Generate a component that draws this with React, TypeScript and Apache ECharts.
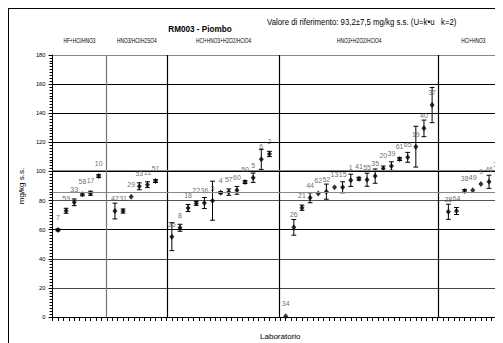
import React, { useEffect, useRef } from "react";
import * as echarts from "echarts";

// ---- data ----
const groupNames = ["HF+HCl/HNO3", "HNO3/HCl/H2SO4", "HCl+HNO3+H2O2/HClO4", "HNO3+H2O2/HClO4", "HCl+HNO3"];
// group boundaries in x-axis units (axis starts at 0, ends at 84)
const groupBounds = [0, 9.9, 21.2, 41.9, 71.2, 84];

const labsG1 = ["7", "59", "33", "58", "17", "10"];
const valsG1 = [59.8, 73.0, 78.8, 84.3, 85.0, 96.8];
const errsG1 = [0.7, 1.7, 2.3, 1.0, 1.4, 1.0];

const labsG2 = ["42", "31", "29", "53", "11", "51"];
const valsG2 = [72.8, 72.8, 82.6, 89.8, 90.9, 93.4];
const errsG2 = [5.4, 1.4, 0, 2.4, 2.0, 1.0];

const labsG3 = ["25", "8", "18", "22", "36", "3", "4", "57", "60", "50", "5", "6", "2"];
const valsG3 = [55.2, 61.3, 74.9, 78.1, 78.3, 79.9, 85.4, 85.8, 87.0, 92.7, 95.7, 108.3, 112.0];
const errsG3 = [9.6, 2.4, 2.4, 1.4, 3.8, 13.4, 0.7, 2.2, 2.7, 1.0, 3.2, 6.9, 1.8];

const labsG4 = ["34", "26", "21", "44", "62", "52", "13", "15", "1", "41", "55", "35", "20", "39", "61", "65", "19", "40", "37"];
const valsG4 = [0.5, 61.6, 75.1, 81.9, 84.9, 86.1, 89.1, 89.1, 93.9, 95.0, 94.3, 96.8, 102.1, 103.7, 108.5, 109.7, 117.0, 129.6, 145.6];
const errsG4 = [0, 5.4, 1.8, 3.4, 0, 5.2, 0, 3.8, 4.2, 1.0, 4.5, 4.9, 1.6, 2.9, 1.0, 3.4, 14.0, 5.7, 12.1];

const labsG5 = ["28", "64", "38", "49", "9", "46", "32", "23"];
const valsG5 = [72.3, 72.8, 86.5, 87.0, 91.3, 92.9, 96.4, 104.0];
const errsG5 = [5.2, 2.4, 1.0, 0, 0, 4.5, 0, 4.0];

const refValue = 93.2;
const refU = 7.5;
const yTicks = [0, 20, 40, 60, 80, 100, 120, 140, 160, 180];

const groups = [
  { labs: labsG1, vals: valsG1, errs: errsG1 },
  { labs: labsG2, vals: valsG2, errs: errsG2 },
  { labs: labsG3, vals: valsG3, errs: errsG3 },
  { labs: labsG4, vals: valsG4, errs: errsG4 },
  { labs: labsG5, vals: valsG5, errs: errsG5 },
];

const SANS = "'Liberation Sans', Arial, sans-serif";

export default function App() {
  const ref = useRef<HTMLDivElement>(null);
  useEffect(() => {
    if (!ref.current) return;
    const chart = echarts.init(ref.current, undefined, { renderer: "svg" });

    // build points: each group followed by one empty slot
    const points: any[] = [];
    let slot = 0;
    groups.forEach((g) => {
      g.labs.forEach((lab, i) => {
        points.push([1 + 1.5 * slot, g.vals[i], g.errs[i], lab]);
        slot++;
      });
      slot++;
    });

    const gridColors = ["#000", "#444", "#444", "#000", "#555", "#000", "#000", "#000", "#000", "#888"];

    chart.setOption({
      animation: false,
      grid: { left: 35.3, top: 46, width: 463.7, height: 262 },
      xAxis: {
        type: "value",
        min: 0,
        max: 84,
        interval: 1,
        name: "Laboratorio",
        nameLocation: "middle",
        nameGap: 15,
        nameTextStyle: { fontFamily: SANS, fontSize: 8, color: "#000" },
        axisLine: { lineStyle: { color: "#000", width: 1 } },
        axisTick: { show: true, length: 4, lineStyle: { color: "#000" } },
        axisLabel: { show: false },
        splitLine: { show: false },
      },
      yAxis: {
        type: "value",
        min: yTicks[0],
        max: yTicks[yTicks.length - 1],
        interval: 20,
        name: "mg/kg s.s.",
        nameLocation: "middle",
        nameGap: 18,
        nameTextStyle: { fontFamily: SANS, fontSize: 8, color: "#000" },
        axisLine: { show: true, lineStyle: { color: "#000", width: 1 } },
        axisTick: { show: true, length: 4, lineStyle: { color: "#000" } },
        minorTick: { show: true, splitNumber: 10, length: 3, lineStyle: { color: "#000" } },
        axisLabel: { fontFamily: SANS, fontSize: 5.8, color: "#000", margin: 7 },
        splitLine: { show: true, lineStyle: { color: gridColors, width: 1.2 } },
      },
      series: [
        {
          type: "line",
          data: [],
          silent: true,
          z: 1,
          markLine: {
            silent: true,
            symbol: "none",
            animation: false,
            label: { show: false },
            data: [
              ...groupBounds.slice(1, -1).map((b, i) => ({
                xAxis: b,
                lineStyle: { color: i === 0 ? "#777" : "#000", width: 1.2, type: "solid" },
              })),
              { yAxis: refValue + refU, lineStyle: { color: "#888", width: 1.2, type: "solid" } },
              { yAxis: refValue - refU, lineStyle: { color: "#888", width: 1.2, type: "solid" } },
            ],
          },
        },
        {
          type: "custom",
          z: 3,
          silent: true,
          data: points,
          encode: { x: 0, y: 1 },
          renderItem: (params: any, api: any) => {
            const x = api.value(0);
            const y = api.value(1);
            const e = api.value(2);
            if (!e) return null;
            const top = api.coord([x, y + e]);
            const bot = api.coord([x, y - e]);
            const hw = 2.4;
            const st = { stroke: "#000", lineWidth: 1 };
            return {
              type: "group",
              children: [
                { type: "line", shape: { x1: top[0], y1: top[1], x2: bot[0], y2: bot[1] }, style: st },
                { type: "line", shape: { x1: top[0] - hw, y1: top[1], x2: top[0] + hw, y2: top[1] }, style: st },
                { type: "line", shape: { x1: bot[0] - hw, y1: bot[1], x2: bot[0] + hw, y2: bot[1] }, style: st },
              ],
            };
          },
        },
        {
          type: "scatter",
          z: 4,
          data: points,
          encode: { x: 0, y: 1 },
          symbol: "diamond",
          symbolSize: [5, 6],
          itemStyle: { color: "#000" },
          label: {
            show: true,
            position: "top",
            distance: 6,
            formatter: (p: any) => p.value[3],
            fontFamily: SANS,
            fontSize: 7,
            color: "#444",
          },
        },
      ],
    });

    const headerTexts = groupNames.map((n, i) => {
      const mid = (groupBounds[i] + groupBounds[i + 1]) / 2;
      const px = chart.convertToPixel({ xAxisIndex: 0 }, mid) as number;
      return {
        type: "text",
        x: px,
        y: 32,
        scaleX: 0.74,
        style: { text: n, fontFamily: SANS, fontSize: 6.5, fill: "#000", align: "center", verticalAlign: "middle" },
      };
    });

    chart.setOption({
      graphic: [
        {
          type: "text",
          x: 191,
          y: 20,
          scaleX: 0.86,
          style: { text: "RM003 - Piombo", fontFamily: SANS, fontWeight: "bold", fontSize: 9.5, fill: "#000", align: "center", verticalAlign: "middle" },
        },
        {
          type: "text",
          x: 258,
          y: 13,
          scaleX: 0.84,
          style: { text: "Valore di riferimento: 93,2±7,5 mg/kg s.s. (U=k•u   k=2)", fontFamily: SANS, fontSize: 9.3, fill: "#000", align: "left", verticalAlign: "middle" },
        },
        ...headerTexts,
      ],
    });

    return () => chart.dispose();
  }, []);

  return (
    <div
      style={{
        width: 495,
        height: 335,
        overflow: "hidden",
        borderTop: "1px solid #000",
        borderLeft: "1px solid #000",
        boxSizing: "border-box",
        background: "#fff",
      }}
    >
      <div ref={ref} style={{ width: 520, height: 340 }} />
    </div>
  );
}
